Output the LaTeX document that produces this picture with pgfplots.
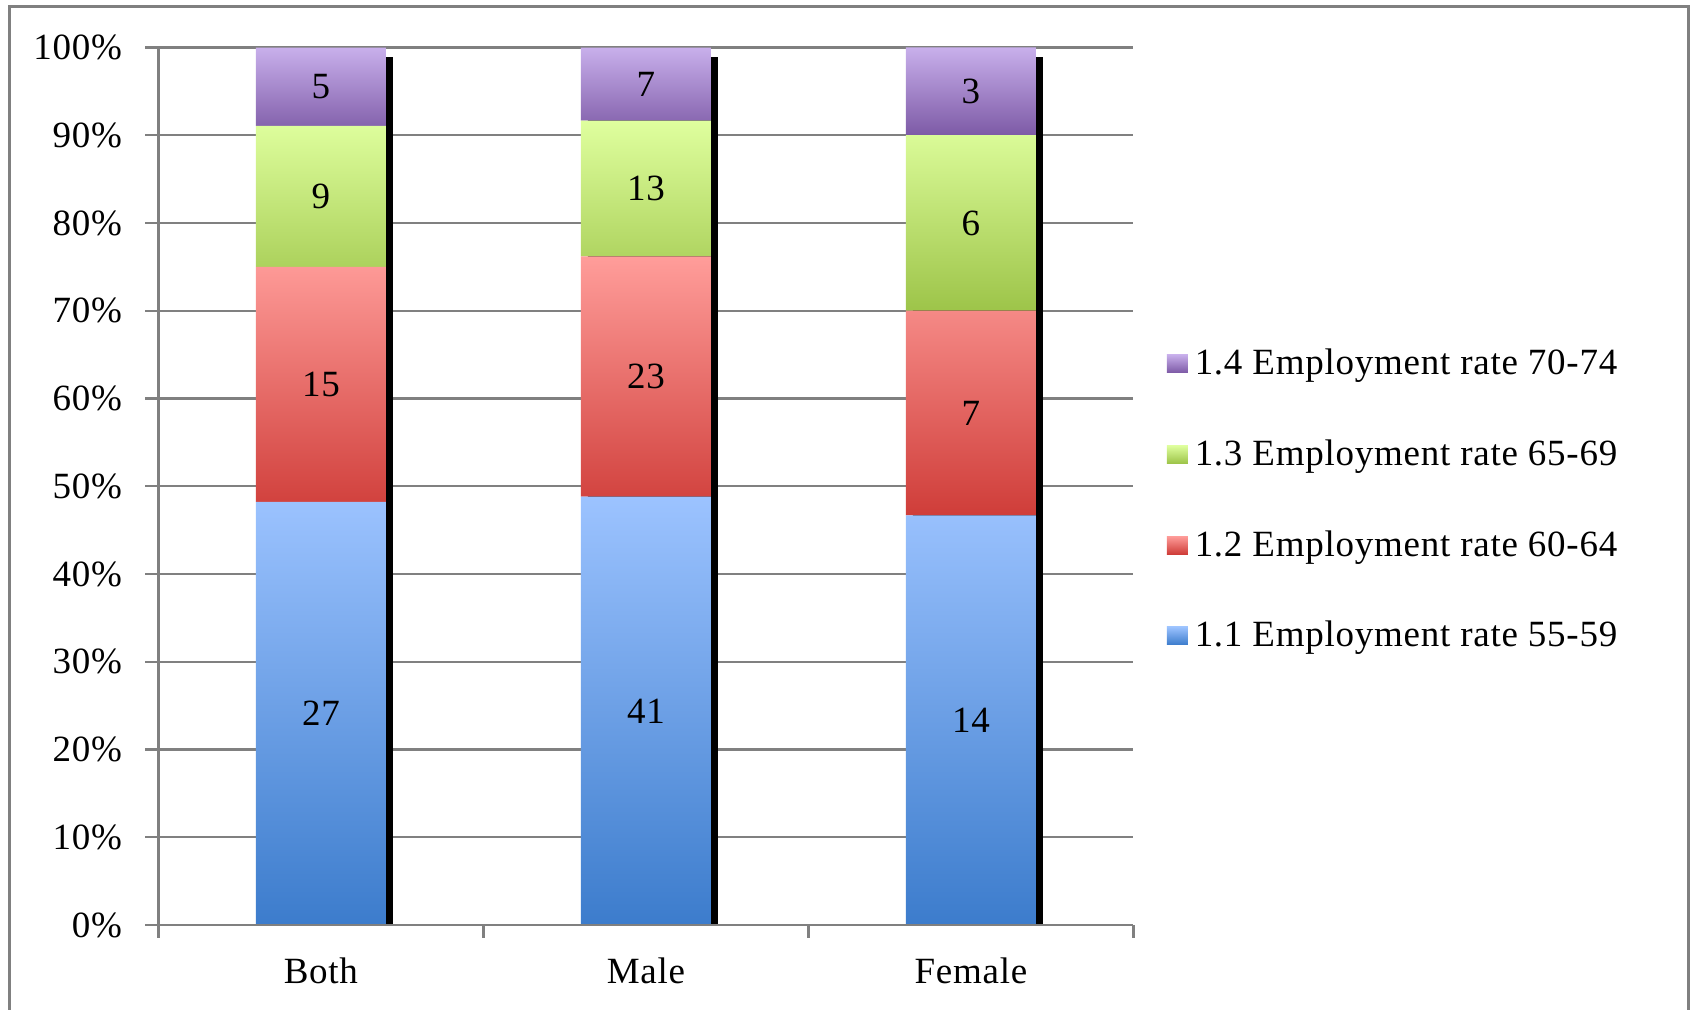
\documentclass[border=0pt]{standalone}
\usepackage{fontspec}
\setmainfont{Liberation Serif}[LetterSpace=2]
\usepackage{pgfplots}
\usepackage{pgfplotstable}
\pgfplotsset{compat=1.18}

\definecolor{gridgray}{RGB}{128,128,128}
\definecolor{blueTop}{RGB}{156,195,255}
\definecolor{blueBot}{RGB}{60,124,204}
\definecolor{redTop}{RGB}{255,157,154}
\definecolor{redBot}{RGB}{207,61,57}
\definecolor{greenTop}{RGB}{223,255,158}
\definecolor{greenBot}{RGB}{157,196,73}
\definecolor{purpleTop}{RGB}{200,175,235}
\definecolor{purpleBot}{RGB}{125,90,166}

% employment rates by age group (55-59, 60-64, 65-69, 70-74)
\pgfplotstableread{
x  a   b   c   d
0  27  15  9   5
1  41  23  13  7
2  14  7   6   3
}\emp

\newcommand{\tot}{(\thisrow{a}+\thisrow{b}+\thisrow{c}+\thisrow{d})}

\pgfplotsset{
  frame/.style={
    scale only axis,
    width=487.5pt, height=438.75pt,
    xmin=-0.5, xmax=2.5, ymin=0, ymax=100,
  },
}

\begin{document}
\fontsize{18.5}{22}\selectfont
\begin{tikzpicture}
\useasboundingbox (-79.2pt,-42.5pt) rectangle (766.8pt,462.5pt);
% chart area border
\draw[gridgray, line width=1.5pt] (-74.2pt,-60pt) -- (-74.2pt,459.35pt) -- (764.8pt,459.35pt) -- (764.8pt,-60pt);

% background: grid, ticks, labels and the bar shadows
\begin{axis}[frame,
  axis x line*=bottom, axis y line*=left,
  axis line style={gridgray, line width=1.4pt},
  ymajorgrids,
  major grid style={gridgray, line width=1.2pt},
  tick align=outside,
  every tick/.style={gridgray, line width=1.2pt},
  major tick length=6.5pt, minor tick length=6.5pt,
  ytick={0,10,...,100},
  yticklabels={0\%,10\%,20\%,30\%,40\%,50\%,60\%,70\%,80\%,90\%,100\%},
  yticklabel style={anchor=east, inner sep=0pt, xshift=-11.5pt},
  xtick={0,1,2},
  xticklabels={Both,Male,Female},
  major x tick style={draw=none},
  minor xtick={-0.5,0.5,1.5,2.5},
  xticklabel style={anchor=base, inner sep=0pt, yshift=-22.9pt},
]
\addplot[ybar, bar width=0.4, bar shift=0.0215, fill=black, draw=none]
  coordinates {(0,98.9) (1,98.9) (2,98.9)};
\end{axis}

% stacked shares
\begin{axis}[frame,
  ybar stacked, bar width=0.4,
  axis x line*=bottom, axis y line=none,
  axis line style={gridgray, line width=1.4pt},
  xtick=\empty, ytick=\empty,
  axis on top,
  reverse legend,
  legend style={at={(1.0342,0.4824)}, anchor=west, draw=none, fill=none,
    inner sep=0pt, outer sep=0pt, row sep=28.35pt, column sep=3.5pt,
    nodes={inner sep=0pt, text height=13pt, text depth=4pt, anchor=base west}},
  legend image code/.code={\path[#1, draw=none] (0pt,1pt) rectangle (10.5pt,10pt);},
]
\addplot[draw=none, top color=blueTop, bottom color=blueBot]
  table[x=x, y expr=100*\thisrow{a}/\tot] {\emp};
\addplot[draw=none, top color=redTop, bottom color=redBot]
  table[x=x, y expr=100*\thisrow{b}/\tot] {\emp};
\addplot[draw=none, top color=greenTop, bottom color=greenBot]
  table[x=x, y expr=100*\thisrow{c}/\tot] {\emp};
\addplot[draw=none, top color=purpleTop, bottom color=purpleBot]
  table[x=x, y expr=100*\thisrow{d}/\tot] {\emp};
\legend{1.1 Employment rate 55-59, 1.2 Employment rate 60-64,
        1.3 Employment rate 65-69, 1.4 Employment rate 70-74}
\end{axis}

% value labels in the middle of each segment
\begin{axis}[frame, hide axis,
  nodes near coords,
  point meta=explicit symbolic,
  every node near coord/.append style={anchor=center, inner sep=0pt, text=black},
]
\addplot[draw=none, mark=none]
  table[x=x, y expr=100*(0.5*\thisrow{a})/\tot, meta=a] {\emp};
\addplot[draw=none, mark=none]
  table[x=x, y expr=100*(\thisrow{a}+0.5*\thisrow{b})/\tot, meta=b] {\emp};
\addplot[draw=none, mark=none]
  table[x=x, y expr=100*(\thisrow{a}+\thisrow{b}+0.5*\thisrow{c})/\tot, meta=c] {\emp};
\addplot[draw=none, mark=none]
  table[x=x, y expr=100*(\thisrow{a}+\thisrow{b}+\thisrow{c}+0.5*\thisrow{d})/\tot, meta=d] {\emp};
\end{axis}
\end{tikzpicture}
\end{document}
